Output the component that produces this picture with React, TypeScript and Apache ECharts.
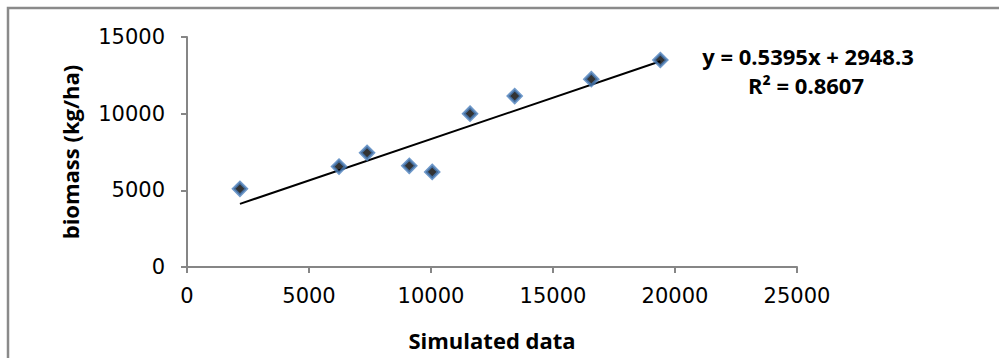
import React, { useEffect, useRef } from "react";
import * as echarts from "echarts";

const simulated = [2170, 6230, 7380, 9110, 10050, 11600, 13430, 16570, 19400];
const biomass = [5100, 6550, 7450, 6600, 6200, 10000, 11150, 12250, 13500];
const slope = 0.5395;
const intercept = 2948.3;
const equationText = "y = 0.5395x + 2948.3";
const r2Text = "R² = 0.8607";
const xTitle = "Simulated data";
const yTitle = "biomass (kg/ha)";

export default function App() {
  const ref = useRef<HTMLDivElement>(null);
  useEffect(() => {
    if (!ref.current) return;
    const chart = echarts.init(ref.current, null, { renderer: "svg" });
    const xmin = Math.min(...simulated);
    const xmax = Math.max(...simulated);
    const trend = [
      [xmin, slope * xmin + intercept],
      [xmax, slope * xmax + intercept],
    ];
    const axisLine = { show: true, lineStyle: { color: "#868686", width: 2 } };
    const axisTick = { show: true, inside: false, length: 6, lineStyle: { color: "#868686", width: 2 } };
    const axisLabel = {
      color: "#000",
      fontFamily: "DejaVu Sans",
      fontSize: 21,
      formatter: (v: number) => String(v),
    };
    chart.setOption({
      animation: false,
      backgroundColor: "#fff",
      grid: { left: 187, right: 202, top: 37, bottom: 91 },
      xAxis: {
        type: "value",
        min: 0,
        max: 25000,
        interval: 5000,
        axisLine,
        axisTick,
        splitLine: { show: false },
        axisLabel: { ...axisLabel, margin: 18 },
      },
      yAxis: {
        type: "value",
        min: 0,
        max: 15000,
        interval: 5000,
        axisLine,
        axisTick,
        splitLine: { show: false },
        axisLabel: { ...axisLabel, margin: 22 },
      },
      series: [
        {
          type: "line",
          data: trend,
          showSymbol: false,
          symbol: "none",
          lineStyle: { color: "#000", width: 2 },
          z: 2,
        },
        {
          type: "scatter",
          data: simulated.map((x, i) => [x, biomass[i]]),
          symbol: "diamond",
          symbolSize: 13,
          itemStyle: { color: "#000", borderColor: "#4a7ebb", borderWidth: 3 },
          z: 3,
        },
      ],
      graphic: [
        {
          type: "rect",
          shape: { x: 8, y: 8, width: 1100, height: 500 },
          style: { fill: "none", stroke: "#8a8a8a", lineWidth: 2.5 },
          silent: true,
        },
        {
          type: "text",
          x: 808,
          y: 56,
          style: {
            text: equationText,
            font: "bold 22px 'Open Sans'",
            fill: "#000",
            align: "center",
            verticalAlign: "middle",
          },
        },
        {
          type: "text",
          x: 806,
          y: 85,
          style: {
            text: r2Text,
            font: "bold 22px 'Open Sans'",
            fill: "#000",
            align: "center",
            verticalAlign: "middle",
          },
        },
        {
          type: "text",
          x: 492,
          y: 340,
          style: {
            text: xTitle,
            font: "bold 22px 'Open Sans'",
            fill: "#000",
            align: "center",
            verticalAlign: "middle",
          },
        },
        {
          type: "text",
          x: 70,
          y: 152,
          rotation: Math.PI / 2,
          style: {
            text: yTitle,
            font: "bold 22px 'Open Sans'",
            fill: "#000",
            align: "center",
            verticalAlign: "middle",
          },
        },
      ],
    });
    return () => chart.dispose();
  }, []);
  return <div ref={ref} style={{ width: 999, height: 358, position: "absolute", left: 0, top: 0 }} />;
}
